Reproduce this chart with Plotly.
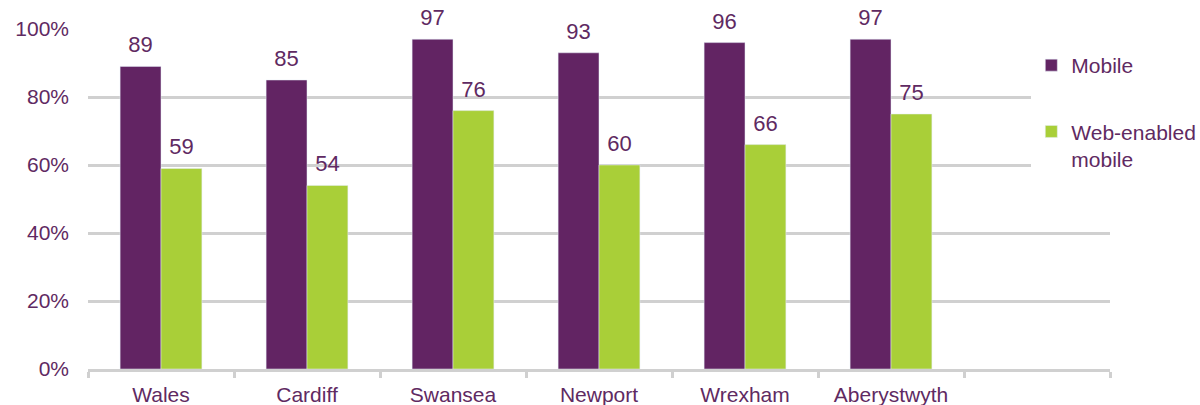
import plotly.graph_objects as go

categories = ["Wales", "Cardiff", "Swansea", "Newport", "Wrexham", "Aberystwyth"]
mobile = [89, 85, 97, 93, 96, 97]
web_enabled = [59, 54, 76, 60, 66, 75]
series_names = ["Mobile", "Web-enabled<br>mobile"]
y_ticks = [0, 20, 40, 60, 80, 100]
y_ticktext = [f"{v}%" for v in y_ticks]

PURPLE = "#622463"
GREEN = "#a9cf38"
TEXT = "#5f2a62"
GRID = "#d0d0d0"
FONT = "Liberation Sans, Arial, sans-serif"
BARGAP = 0.44

x = list(range(len(categories)))

fig = go.Figure()
for vals, name, color, grp in [(mobile, series_names[0], PURPLE, "a"),
                               (web_enabled, series_names[1], GREEN, "b")]:
    fig.add_trace(go.Bar(
        x=x, y=vals, name=name, marker_color=color,
        offsetgroup=grp, legendgroup=grp, hoverinfo="skip",
    ))
for vals, grp in [(mobile, "a"), (web_enabled, "b")]:
    fig.add_trace(go.Scatter(
        x=x, y=vals, mode="markers+text", text=[str(v) for v in vals],
        textposition="top center", offsetgroup=grp, showlegend=False,
        marker=dict(size=12, opacity=0), cliponaxis=False, hoverinfo="skip",
        textfont=dict(size=22, color=TEXT, family=FONT),
    ))

fig.update_layout(
    width=1200, height=405,
    margin=dict(l=88, r=90, t=29, b=36, autoexpand=False),
    paper_bgcolor="white", plot_bgcolor="white",
    barmode="group", bargap=BARGAP, bargroupgap=0,
    scattermode="group", scattergap=BARGAP,
    font=dict(family=FONT, color=TEXT, size=21),
    showlegend=True,
    legend=dict(
        x=0.923, y=0.953, xanchor="left", yanchor="top",
        font=dict(size=21, color=TEXT, family=FONT),
        traceorder="grouped", tracegroupgap=36, valign="top",
        itemwidth=30, bgcolor="white",
    ),
    xaxis=dict(
        range=[-0.5, 6.5],
        tickmode="array", tickvals=x, ticktext=categories,
        ticks="", showgrid=False, zeroline=False, automargin=False,
        showline=True, linecolor=GRID, linewidth=3,
        tickfont=dict(size=21, color=TEXT, family=FONT),
        ticklabelstandoff=5,
        minor=dict(tickmode="linear", tick0=-0.5, dtick=1, ticks="outside",
                   ticklen=6, tickwidth=3, tickcolor=GRID, showgrid=False),
    ),
    yaxis=dict(
        range=[0, 100], tickmode="array", tickvals=y_ticks, ticktext=y_ticktext,
        showgrid=True, gridcolor=GRID, gridwidth=3, automargin=False,
        zeroline=False, showline=False, ticks="",
        tickfont=dict(size=21, color=TEXT, family=FONT),
        ticklabelstandoff=18,
    ),
)

fig.write_html("out.html")
